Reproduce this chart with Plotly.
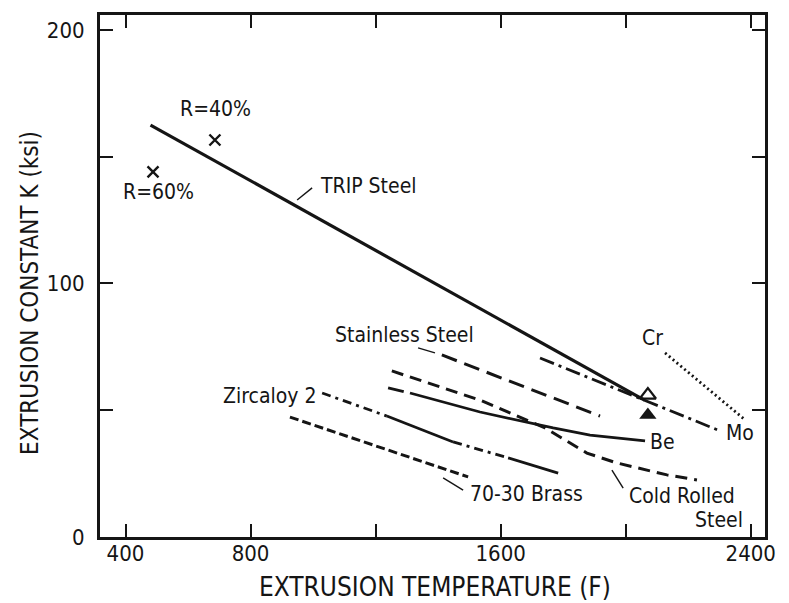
import plotly.graph_objects as go

# ---------------- data ----------------
trip_T = [480, 2060]
trip_K = [162.5, 54.0]

stainless_T = [1412, 1918]
stainless_K = [71.8, 47.7]

cold_T = [1252, 1534, 1742, 1876, 1972, 2132, 2228]
cold_K = [65.5, 54.0, 43.0, 33.1, 29.2, 24.5, 22.5]

be_ext_T = [1240, 1290]
be_ext_K = [58.8, 57.3]
be_T = [1310, 1534, 1768, 1886, 2062]
be_K = [56.8, 49.3, 43.0, 40.2, 37.9]

zirc_T = [1029, 1236, 1448, 1624, 1784]
zirc_K = [56.8, 47.7, 37.5, 31.2, 25.2]

brass_T = [926, 1496]
brass_K = [47.3, 23.7]

mo_T = [1726, 2295]
mo_K = [70.6, 42.2]

cr_T = [2126, 2382]
cr_K = [72.6, 46.2]

r_T = [686, 488]
r_K = [156.6, 144.0]

open_tri_T = [2071]
open_tri_K = [56.0]
filled_tri_T = [2071]
filled_tri_K = [48.1]

x_tickvals = [400, 800, 1200, 1600, 2000, 2400]
x_ticktext = ["400", "800", "", "1600", "", "2400"]
y_tickvals = [0, 50, 100, 150, 200]
y_ticktext = ["0", "", "100", "", "200"]

x_title = "EXTRUSION TEMPERATURE (F)"
y_title = "EXTRUSION CONSTANT K (ksi)"

# label texts and anchor points (T, K)
labels = [
    ("R=40%", 688, 169.0, "center"),
    ("R=60%", 504, 136.0, "center"),
    ("TRIP Steel", 1016, 138.5, "left"),
    ("Stainless Steel", 1291, 79.7, "center"),
    ("Zircaloy 2", 1016, 55.6, "right"),
    ("70-30 Brass", 1496, 17.0, "left"),
    ("Be", 2071, 37.5, "left"),
    ("Cold Rolled", 2005, 16.2, "left"),
    ("Steel", 2382, 6.9, "right"),
    ("Mo", 2314, 41.0, "left"),
    ("Cr", 2087, 78.5, "center"),
]

# leader lines (T0, K0, T1, K1)
leaders = [
    (949, 132.9, 997, 137.7),
    (1336, 74.6, 1390, 72.6),
    (1416, 23.3, 1480, 18.5),
    (1956, 26.4, 1992, 19.3),
]

# ---------------- figure ----------------
INK = "#151515"
FONT = "DejaVu Sans Condensed, Liberation Sans Narrow, DejaVu Sans, sans-serif"

fig = go.Figure()

def add_line(x, y, dash="solid", width=2.8):
    fig.add_trace(go.Scatter(x=x, y=y, mode="lines",
                             line=dict(color=INK, width=width, dash=dash),
                             showlegend=False, hoverinfo="skip"))

add_line(trip_T, trip_K, "solid", 3.2)
add_line(stainless_T, stainless_K, "16px,8px", 3.0)
add_line(cold_T, cold_K, "12px,7px", 3.0)
add_line(be_ext_T, be_ext_K, "solid", 2.8)
add_line(be_T, be_K, "solid", 2.8)

zirc_styles = ["9px,5px,3px,5px", "solid", "9px,5px,3px,5px", "solid"]
for i, st in enumerate(zirc_styles):
    add_line(zirc_T[i:i + 2], zirc_K[i:i + 2], st, 2.8)

add_line(brass_T, brass_K, "9px,4px", 3.0)
add_line(mo_T, mo_K, "15px,5px,3px,5px", 2.8)
add_line(cr_T, cr_K, "2px,3px", 2.8)

fig.add_trace(go.Scatter(x=r_T, y=r_K, mode="markers",
                         marker=dict(symbol="x-thin", size=11, color=INK,
                                     line=dict(color=INK, width=2.4)),
                         showlegend=False, hoverinfo="skip"))
fig.add_trace(go.Scatter(x=open_tri_T, y=open_tri_K, mode="markers",
                         marker=dict(symbol="triangle-up-open", size=14, color=INK,
                                     line=dict(color=INK, width=2.2)),
                         showlegend=False, hoverinfo="skip"))
fig.add_trace(go.Scatter(x=filled_tri_T, y=filled_tri_K, mode="markers",
                         marker=dict(symbol="triangle-up", size=15, color=INK),
                         showlegend=False, hoverinfo="skip"))

for (t0, k0, t1, k1) in leaders:
    fig.add_shape(type="line", x0=t0, y0=k0, x1=t1, y1=k1,
                  line=dict(color=INK, width=1.4))

for text, t, k, anchor in labels:
    fig.add_annotation(x=t, y=k, text=text, showarrow=False, xanchor=anchor,
                       yanchor="middle", font=dict(family=FONT, size=21, color=INK))

# axis titles placed as paper-referenced annotations
fig.add_annotation(x=0.504, y=-0.096, xref="paper", yref="paper", text=x_title,
                   showarrow=False, xanchor="center", yanchor="middle",
                   font=dict(family=FONT, size=26, color=INK))
fig.add_annotation(x=-0.105, y=0.468, xref="paper", yref="paper", text=y_title,
                   showarrow=False, xanchor="center", yanchor="middle", textangle=-90,
                   font=dict(family=FONT, size=24, color=INK))

axis_common = dict(showline=True, linewidth=3, linecolor=INK, mirror="ticks",
                   ticks="inside", ticklen=13, tickwidth=1.5, tickcolor=INK,
                   showgrid=False, zeroline=False, automargin=False,
                   tickfont=dict(family=FONT, size=22, color=INK))

# page body has an 8px default margin; plot box is placed to match the reference
fig.update_layout(
    width=773, height=595,
    margin=dict(l=92, r=16, t=7, b=66),
    paper_bgcolor="white", plot_bgcolor="white",
    xaxis=dict(range=[318.4, 2445.7], tickmode="array", tickvals=x_tickvals,
               ticktext=x_ticktext, ticklabelstandoff=-5, **axis_common),
    yaxis=dict(range=[0, 205.9], tickmode="array", tickvals=y_tickvals,
               ticktext=y_ticktext, ticklabelstandoff=8, **axis_common),
)

fig.write_html("out.html")
